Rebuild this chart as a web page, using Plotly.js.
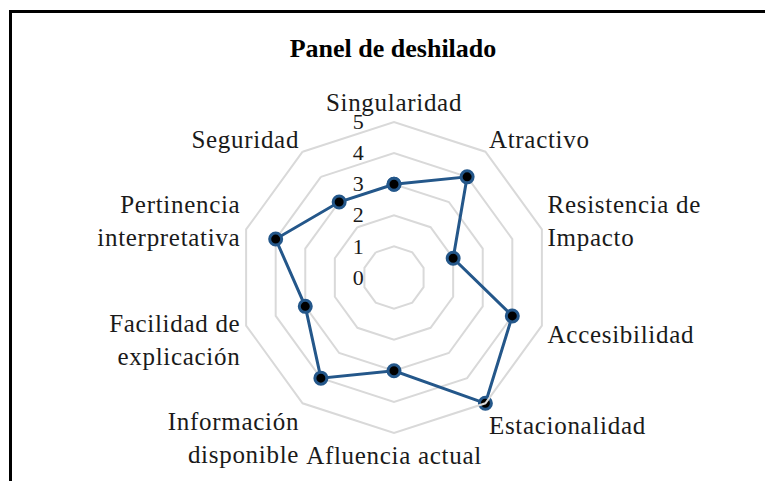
<!DOCTYPE html>
<html><head><meta charset="utf-8">
<script src="https://cdn.plot.ly/plotly-3.0.1.min.js"></script>
<style>
html,body{margin:0;padding:0;background:#fff}
#chart{width:765px;height:481px}
#chart .polarlayer .angularaxis text, #chart .polarlayer text.angularaxistick, #chart .polarlayer .angularaxistick text{letter-spacing:0.7px}
</style>
</head><body><div id="chart"></div>
<script>
const categories = ["Singularidad","Atractivo","Resistencia de<br>Impacto","Accesibilidad","Estacionalidad","Afluencia actual","Información<br>disponible","Facilidad de<br>explicación","Pertinencia<br>interpretativa","Seguridad"];
const values = [3,4,2,4,5,3,4,3,4,3];
const radialTicks = [0,1,2,3,4,5];
const chartTitle = "Panel de deshilado";

const theta = categories.concat([categories[0]]);
const r = values.concat([values[0]]);

const trace = {
  type: "scatterpolar",
  r: r,
  theta: theta,
  mode: "lines+markers",
  line: {color: "#24578a", width: 3},
  marker: {color: "#000000", size: 12, line: {color: "#24578a", width: 3}},
  hoverinfo: "skip",
  showlegend: false
};

const W = 765, H = 481;
const cx = 394, cy = 277.5, R = 155.5;

const layout = {
  width: W, height: H,
  margin: {l: 0, r: 0, t: 0, b: 0},
  paper_bgcolor: "#ffffff",
  font: {family: "Liberation Serif, Times New Roman, serif", color: "#1a1a1a", size: 25},
  title: {
    text: "<b>" + chartTitle + "</b>",
    font: {family: "Liberation Serif, Times New Roman, serif", size: 26, color: "#000"},
    x: 393/W, xanchor: "center",
    y: 1 - 48/H, yanchor: "middle",
    xref: "paper", yref: "paper"
  },
  polar: {
    domain: {x: [(cx - R)/W, (cx + R)/W], y: [1 - (cy + R)/H, 1 - (cy - R)/H]},
    gridshape: "linear",
    bgcolor: "rgba(0,0,0,0)",
    radialaxis: {
      range: [0, 5],
      tickvals: radialTicks,
      ticktext: radialTicks.map(String),
      angle: 90,
      side: "counterclockwise",
      showline: false,
      gridcolor: "#d9d9d9",
      gridwidth: 2,
      ticks: "outside",
      ticklen: 22,
      tickcolor: "rgba(0,0,0,0)",
      tickangle: 90,
      tickfont: {size: 22, color: "#1a1a1a"}
    },
    angularaxis: {
      direction: "clockwise",
      rotation: 90,
      showgrid: false,
      showline: true,
      linecolor: "#d9d9d9",
      linewidth: 2,
      ticks: "",
      tickfont: {size: 25, color: "#1a1a1a"}
    }
  },
  shapes: [
    {type: "line", xref: "paper", yref: "paper", x0: 10.5/W, x1: 10.5/W, y0: 0, y1: 1 - 10/H, line: {color: "#000", width: 3}},
    {type: "line", xref: "paper", yref: "paper", x0: 9/W, x1: 1, y0: 1 - 11.5/H, y1: 1 - 11.5/H, line: {color: "#000", width: 3}}
  ]
};

Plotly.newPlot("chart", [trace], layout, {displayModeBar: false, staticPlot: true});
</script>
</body></html>
